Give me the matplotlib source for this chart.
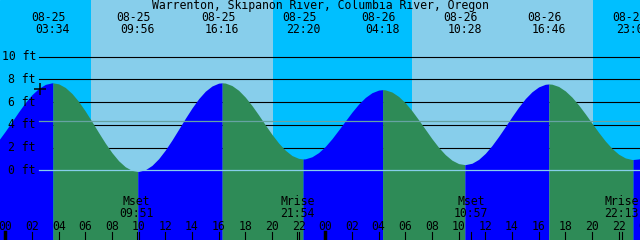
import numpy as np
import matplotlib
matplotlib.use("Agg")
import matplotlib.pyplot as plt
from matplotlib.transforms import blended_transform_factory

# Station title
title = "Warrenton, Skipanon River, Columbia River, Oregon"

# Tide height (ft) every half hour from 08-24 23:00
hours = list(np.arange(-1, 48.5, 0.5))
heights = [1.96, 2.64, 3.44, 4.29, 5.15, 5.96, 6.66, 7.20, 7.56, 7.70,
           7.61, 7.29, 6.76, 6.06, 5.21, 4.28, 3.32, 2.39, 1.55, 0.84,
           0.31, -0.01, -0.10, 0.05, 0.43, 1.02, 1.78, 2.66, 3.61, 4.57,
           5.48, 6.30, 6.96, 7.42, 7.67, 7.68, 7.46, 7.04, 6.44, 5.70,
           4.87, 4.00, 3.16, 2.40, 1.77, 1.30, 1.05, 1.01, 1.19, 1.56,
           2.10, 2.78, 3.55, 4.34, 5.12, 5.83, 6.41, 6.83, 7.06, 7.08,
           6.89, 6.50, 5.94, 5.24, 4.44, 3.61, 2.78, 2.02, 1.38, 0.89,
           0.59, 0.50, 0.62, 0.96, 1.49, 2.18, 2.98, 3.84, 4.72, 5.56,
           6.31, 6.91, 7.34, 7.57, 7.58, 7.38, 6.99, 6.44, 5.75, 4.97,
           4.15, 3.34, 2.58, 1.93, 1.42, 1.09, 0.95, 1.00, 1.15]

# High / low tide events
event_dates = ["08-25", "08-25", "08-25", "08-25", "08-26", "08-26", "08-26", "08-26"]
event_times = ["03:34", "09:56", "16:16", "22:20", "04:18", "10:28", "16:46", "23:05"]
event_heights = [7.7, -0.1, 7.7, 1.0, 7.1, 0.5, 7.6, 0.95]
event_kinds = ["high", "low", "high", "low", "high", "low", "high", "low"]

# Sun and moon (hours from 08-25 00:00)
sunrise = [6.43, 30.47]
sunset = [20.1, 44.05]
moon_names = ["Mset", "Mrise", "Mset", "Mrise"]
moon_times = ["09:51", "21:54", "10:57", "22:13"]
moon_days = [0, 0, 1, 1]

mean_level = 4.37
now_hour, now_height = 2.6, 7.2
y_ticks = [0, 2, 4, 6, 8, 10]


def to_hours(hhmm, day):
    hh, mm = hhmm.split(":")
    return 24 * day + int(hh) + int(mm) / 60


day_index = {"08-25": 0, "08-26": 1}
event_hours = [to_hours(t, day_index[d]) for d, t in zip(event_dates, event_times)]
moon_hours = [to_hours(t, d) for t, d in zip(moon_times, moon_days)]

W, H = 640, 240
fig = plt.figure(figsize=(6.4, 2.4), dpi=100)
ax = fig.add_axes([0, 0, 1, 1])
ax.set_xlim(-5.3 / 13.333, (W - 5.3) / 13.333)
ax.set_ylim(-(H - 170.3) / 11.36, 170.3 / 11.36)
ax.axis("off")
ax.add_patch(plt.Rectangle((0, 0), 1, 1, transform=ax.transAxes,
                           color="#00BFFF", zorder=0))

# daylight
for r, s in zip(sunrise, sunset):
    ax.axvspan(r, s, color="#87CEEB", lw=0, zorder=1)

# grid lines behind the water
x0 = 39 / W
for v in y_ticks[1:]:
    ax.axhline(v, xmin=x0, xmax=1, color="black", lw=0.8, zorder=2)

# tide curve: merge the readings with the events
t = np.array(hours + event_hours, dtype=float)
h = np.array(heights + event_heights, dtype=float)
order = np.argsort(t)
t, h = t[order], h[order]

bounds = [t[0]] + event_hours + [t[-1]]
for i in range(len(bounds) - 1):
    a, b = bounds[i], bounds[i + 1]
    m = (t >= a - 1e-9) & (t <= b + 1e-9)
    if i < len(event_kinds):
        rising = event_kinds[i] == "high"
    else:
        rising = event_kinds[-1] == "low"
    col = "#0000FF" if rising else "#2E8B57"
    ax.fill_between(t[m], h[m], -10, color=col, lw=0, zorder=3)

# zero and mean lines over the water
ax.axhline(0, xmin=x0, xmax=1, color="#87CEEB", lw=0.9, zorder=4)
ax.axhline(mean_level, xmin=x0, xmax=1, color="#66A3A3", lw=0.9, zorder=4)

ax.plot([now_hour], [now_height], marker="+", color="black", ms=8, mew=1.1, zorder=5)

font = dict(family="DejaVu Sans Mono", size=8.3, color="black")
tr = blended_transform_factory(ax.transData, fig.transFigure)


def fy(py):
    return 1 - py / H


fig.text(0.5, fy(6), title, ha="center", va="center", **font)

for ht, d, tm in zip(event_hours, event_dates, event_times):
    ax.text(ht - 4 / 13.333, fy(17.5), d, transform=tr, ha="center", va="center", **font)
    ax.text(ht, fy(29.5), tm, transform=tr, ha="center", va="center", **font)

for v in y_ticks:
    fig.text(36 / W, fy(170.3 - 11.36 * v), f"{v} ft", ha="right", va="center", **font)

for mh, name, tm in zip(moon_hours, moon_names, moon_times):
    ax.text(mh, fy(201.5), name, transform=tr, ha="center", va="center", **font)
    ax.text(mh, fy(213.5), tm, transform=tr, ha="center", va="center", **font)
    ax.plot([mh, mh], [fy(232), fy(240)], transform=tr, color="black", lw=0.8, zorder=6)

for hr in range(0, 49, 2):
    ax.text(hr, fy(226), f"{hr % 24:02d}", transform=tr, ha="center", va="center", **font)
    lw = 2.5 if hr % 24 == 0 else 0.8
    ax.plot([hr, hr], [fy(232), fy(240)], transform=tr, color="black", lw=lw, zorder=6)

fig.savefig("out.png", dpi=100)
